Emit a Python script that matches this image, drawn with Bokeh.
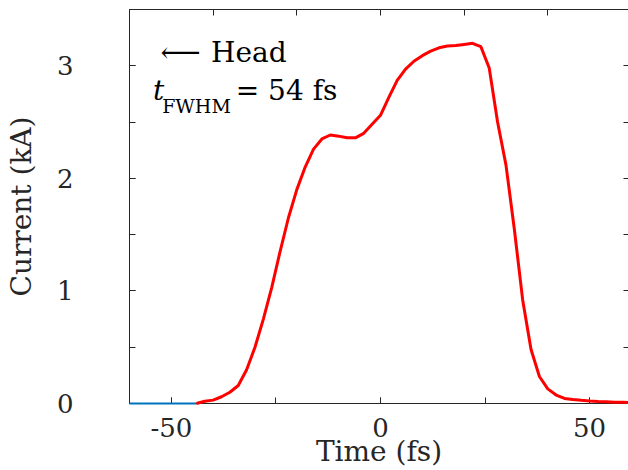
from bokeh.plotting import figure
from bokeh.models import LinearAxis, SingleIntervalTicker, Range1d, PrintfTickFormatter
from bokeh.core.properties import value
from bokeh.embed import file_html
from bokeh.resources import INLINE

# ---- data ----
time_fs = [-44, -42, -40, -38, -36, -34, -32, -30, -28, -26, -24, -22, -20, -18,
           -16, -14, -12, -10, -8, -6, -4, -2, 0, 2, 4, 6, 8, 10, 12, 14, 16,
           18, 20, 22, 24, 26, 28, 30, 32, 34, 36, 38, 40, 42, 44, 46, 48, 50,
           52, 54, 56, 58, 60]
current_ka = [0.0, 0.02, 0.03, 0.06, 0.10, 0.16, 0.30, 0.50, 0.75, 1.03, 1.35,
              1.65, 1.90, 2.10, 2.26, 2.35, 2.385, 2.375, 2.36, 2.36, 2.40,
              2.48, 2.56, 2.72, 2.87, 2.97, 3.04, 3.09, 3.13, 3.16, 3.175,
              3.18, 3.19, 3.20, 3.17, 2.98, 2.50, 2.12, 1.55, 0.92, 0.48, 0.24,
              0.13, 0.075, 0.045, 0.035, 0.028, 0.022, 0.018, 0.015, 0.012,
              0.010, 0.008]
blue_time = [-60, -44]
blue_current = [0, 0]

x_ticks_major = 50
y_ticks_major = 1
top_tick_step = 20
right_tick_step = 0.5

FONT = "DejaVu Serif"
AX = "#262626"

p = figure(width=628, height=470, output_backend="svg", toolbar_location=None,
           x_range=Range1d(-60, 59.3), y_range=Range1d(0, 3.5),
           min_border_left=129, min_border_right=0, min_border_top=9,
           min_border_bottom=67)
p.outline_line_color = None
p.grid.visible = False
p.background_fill_color = "white"
p.border_fill_color = "white"

p.line(blue_time, blue_current, line_color="#0072BD", line_width=2, level="overlay")
p.line(time_fs, current_ka, line_color="#FF0000", line_width=3, level="overlay")

# bottom axis
xa = p.xaxis[0]
xa.ticker = SingleIntervalTicker(interval=x_ticks_major, num_minor_ticks=2)
xa.formatter = PrintfTickFormatter(format="%d")
xa.axis_label = "Time (fs)"
xa.axis_label_text_font = FONT
xa.axis_label_text_font_size = "28px"
xa.axis_label_text_font_style = "normal"
xa.axis_label_text_color = AX
xa.axis_label_standoff = -5
xa.major_label_text_font = FONT
xa.major_label_text_font_size = "26px"
xa.major_label_text_color = AX
xa.major_label_standoff = 14
xa.major_tick_in = 6
xa.major_tick_out = 0
xa.minor_tick_in = 6
xa.minor_tick_out = 0
xa.axis_line_color = AX
xa.major_tick_line_color = AX
xa.minor_tick_line_color = AX

# left axis
ya = p.yaxis[0]
ya.ticker = SingleIntervalTicker(interval=y_ticks_major, num_minor_ticks=2)
ya.formatter = PrintfTickFormatter(format="%d")
ya.axis_label = "Current (kA)"
ya.axis_label_text_font = FONT
ya.axis_label_text_font_size = "28px"
ya.axis_label_text_font_style = "normal"
ya.axis_label_text_color = AX
ya.axis_label_standoff = 16
ya.major_label_text_font = FONT
ya.major_label_text_font_size = "26px"
ya.major_label_text_color = AX
ya.major_label_standoff = 56
ya.major_tick_in = 6
ya.major_tick_out = 0
ya.minor_tick_in = 6
ya.minor_tick_out = 0
ya.axis_line_color = AX
ya.major_tick_line_color = AX
ya.minor_tick_line_color = AX

# top axis (ticks only)
top = LinearAxis(ticker=SingleIntervalTicker(interval=top_tick_step, num_minor_ticks=0))
top.major_label_text_font_size = "0px"
top.major_label_text_color = None
top.major_label_standoff = 0
top.major_tick_in = 6
top.major_tick_out = 0
top.minor_tick_line_color = None
top.axis_line_color = AX
top.major_tick_line_color = AX
p.add_layout(top, "above")

# right axis (ticks only, spine outside the window)
right = LinearAxis(ticker=SingleIntervalTicker(interval=right_tick_step, num_minor_ticks=0))
right.major_label_text_font_size = "0px"
right.major_label_text_color = None
right.major_label_standoff = 0
right.major_tick_in = 5
right.major_tick_out = 0
right.minor_tick_line_color = None
right.axis_line_color = None
right.major_tick_line_color = AX
p.add_layout(right, "right")

# annotations
def lab(x, y, t, size="28px", style="normal"):
    p.text(x=[x], y=[y], text=[t], text_font=value(FONT), text_font_size=size,
           text_font_style=style, text_color="black",
           text_baseline="alphabetic", text_align="left")

lab(-52.6, 3.115, "\u27f5")
lab(-40.5, 3.115, "Head")
lab(-54.4, 2.778, "t", style="italic")
lab(-52.2, 2.645, "FWHM", size="19px")
lab(-34.6, 2.778, "= 54 fs")

open("out.html", "w").write(file_html(p, INLINE))
